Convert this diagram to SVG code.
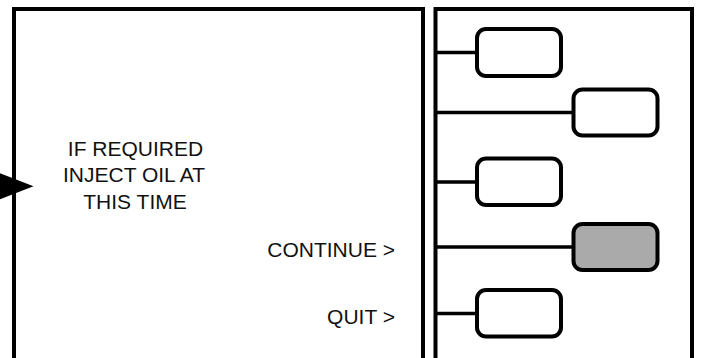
<svg xmlns="http://www.w3.org/2000/svg" width="701" height="358" viewBox="0 0 701 358">
<style>
.frame{fill:#fff;stroke:#000;stroke-width:4}
.box{fill:#fff;stroke:#000;stroke-width:4}
.sel{fill:#aaaaaa}
.conn{stroke:#000;stroke-width:3.5;fill:none}
.txt{font-family:"Liberation Sans",Arial,Helvetica,sans-serif;font-size:21px;fill:#111}
</style>
<rect width="701" height="358" fill="#fff"/>
<g id="screen">
<rect class="frame" x="14" y="9" width="409" height="360"/>
<text class="txt" x="135.5" y="155.5" text-anchor="middle">IF REQUIRED</text>
<text class="txt" x="134" y="182" text-anchor="middle">INJECT OIL AT</text>
<text class="txt" x="135" y="209" text-anchor="middle">THIS TIME</text>
<text class="txt" x="395" y="257" text-anchor="end">CONTINUE &gt;</text>
<text class="txt" x="395" y="323.5" text-anchor="end">QUIT &gt;</text>
</g>
<g id="keypad">
<rect class="frame" x="435.5" y="9" width="256.5" height="360"/>
</g>
<g id="connectors">
<path class="conn" d="M435.5 52.5H477M435.5 112.5H573.5M435.5 182H477M435.5 247H573.5M435.5 313.5H477"/>
<polygon points="-3,172 33.5,186.2 -3,200.4" fill="#000"/>
</g>
<g id="key1"><rect class="box" x="477" y="29" width="84" height="47" rx="9"/></g>
<g id="key2"><rect class="box" x="573.5" y="89.5" width="84" height="46" rx="9"/></g>
<g id="key3"><rect class="box" x="477" y="158.5" width="84" height="46.5" rx="9"/></g>
<g id="key4"><rect class="box sel" x="573.5" y="224" width="84" height="46" rx="9"/></g>
<g id="key5"><rect class="box" x="477" y="290" width="84" height="46.5" rx="9"/></g>
</svg>
